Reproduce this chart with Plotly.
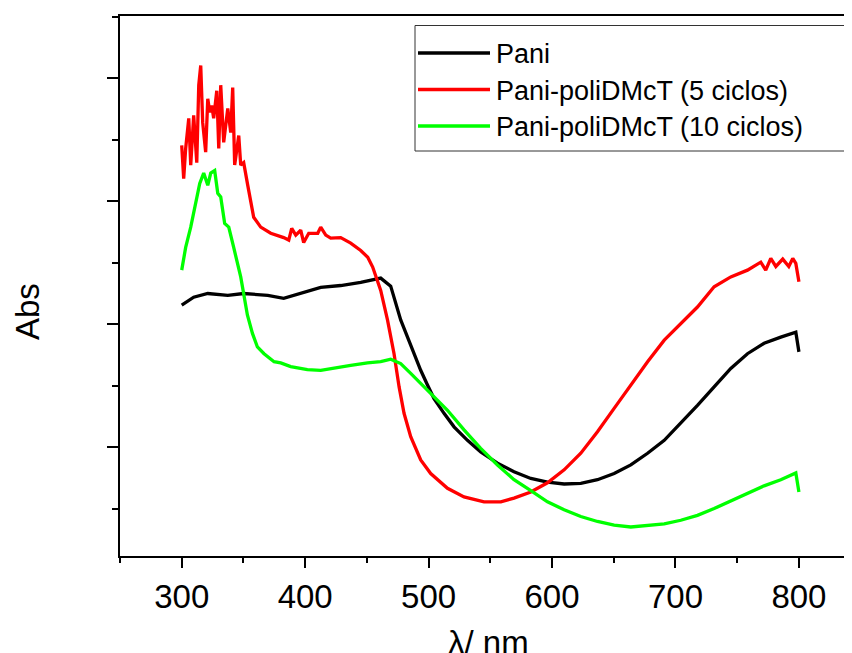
import plotly.graph_objects as go

# ---- data (wavelength nm, absorbance arb. units) ----
pani_x = [300.0, 309.7, 321.1, 337.3, 350.2, 369.7, 382.6, 396.4, 412.6, 428.8, 445.0, 461.2,
          469.3, 477.4, 482.9, 488.2, 493.6, 499.1, 504.4, 512.5, 520.6, 531.5, 542.2, 555.8,
          569.2, 582.8, 596.3, 609.8, 623.3, 636.8, 650.3, 663.8, 677.4, 690.9, 704.3, 717.8,
          731.3, 744.8, 758.3, 771.8, 785.3, 797.5, 800.0]
pani_y = [0.631, 0.644, 0.650, 0.647, 0.650, 0.647, 0.642, 0.650, 0.660, 0.663, 0.668, 0.675,
          0.662, 0.607, 0.579, 0.552, 0.525, 0.501, 0.479, 0.455, 0.433, 0.411, 0.392, 0.374,
          0.360, 0.349, 0.343, 0.340, 0.341, 0.347, 0.357, 0.371, 0.390, 0.411, 0.439, 0.468,
          0.498, 0.528, 0.552, 0.569, 0.579, 0.587, 0.555]

p5_x = [300.0, 301.6, 303.2, 305.7, 307.3, 309.7, 312.2, 313.8, 315.4, 317.0, 319.4, 321.1,
        322.7, 324.3, 325.9, 328.4, 330.0, 331.6, 334.0, 337.3, 339.7, 341.3, 342.9, 346.2,
        347.8, 350.2, 353.5, 358.3, 364.0, 372.1, 382.6, 386.7, 389.1, 392.4, 396.4, 398.8,
        402.9, 410.2, 412.6, 416.7, 420.7, 428.8, 436.9, 445.0, 450.7, 454.7, 461.2, 466.7,
        472.0, 476.1, 480.1, 485.5, 493.6, 501.7, 515.3, 528.7, 544.9, 558.5, 569.2, 582.8,
        596.3, 609.8, 623.3, 636.8, 650.3, 663.8, 677.4, 690.9, 707.1, 717.8, 731.3, 744.8,
        758.3, 769.1, 773.1, 777.2, 781.3, 786.9, 791.8, 795.0, 797.5, 800.0]
p5_y = [0.891, 0.837, 0.886, 0.935, 0.859, 0.940, 0.863, 0.989, 1.021, 0.928, 0.880, 0.967,
        0.945, 0.956, 0.935, 0.980, 0.886, 0.989, 0.896, 0.951, 0.912, 0.985, 0.859, 0.907,
        0.859, 0.863, 0.826, 0.774, 0.758, 0.748, 0.741, 0.737, 0.756, 0.745, 0.753, 0.733,
        0.748, 0.748, 0.758, 0.745, 0.740, 0.741, 0.732, 0.720, 0.709, 0.693, 0.655, 0.607,
        0.552, 0.498, 0.455, 0.417, 0.379, 0.357, 0.333, 0.319, 0.311, 0.311, 0.317, 0.327,
        0.342, 0.363, 0.390, 0.425, 0.463, 0.501, 0.539, 0.574, 0.607, 0.628, 0.661, 0.677,
        0.688, 0.701, 0.688, 0.707, 0.694, 0.706, 0.694, 0.707, 0.699, 0.669]

p10_x = [300.0, 303.2, 307.3, 311.3, 314.6, 317.8, 321.1, 323.5, 326.7, 329.2, 331.6, 334.8,
         338.1, 342.1, 346.2, 347.8, 353.2, 357.3, 361.3, 366.7, 374.8, 380.2, 388.3, 401.8,
         412.6, 423.4, 436.9, 450.5, 461.2, 469.3, 477.4, 485.5, 493.6, 501.7, 515.3, 528.7,
         542.2, 555.8, 569.2, 582.8, 596.3, 609.8, 623.3, 636.8, 650.3, 663.8, 677.4, 690.9,
         704.3, 717.8, 731.3, 744.8, 758.3, 771.8, 785.3, 797.5, 800.0]
p10_y = [0.688, 0.725, 0.758, 0.797, 0.829, 0.846, 0.826, 0.846, 0.850, 0.813, 0.807, 0.764,
         0.758, 0.725, 0.688, 0.677, 0.615, 0.585, 0.563, 0.552, 0.539, 0.537, 0.531, 0.526,
         0.525, 0.528, 0.533, 0.537, 0.539, 0.543, 0.536, 0.520, 0.504, 0.487, 0.460, 0.428,
         0.398, 0.371, 0.347, 0.329, 0.311, 0.298, 0.287, 0.279, 0.273, 0.270, 0.272, 0.275,
         0.281, 0.289, 0.300, 0.312, 0.325, 0.337, 0.347, 0.358, 0.327]

series_names = ["Pani", "Pani-poliDMcT (5 ciclos)", "Pani-poliDMcT (10 ciclos)"]
series_colors = ["#000000", "#ff0000", "#00ff00"]

x_range = [250, 843]
y_range = [0.2228, 1.1016]

FONT = "Liberation Sans, Arial, sans-serif"

fig = go.Figure()
for xs, ys, name, col in zip([pani_x, p5_x, p10_x], [pani_y, p5_y, p10_y], series_names, series_colors):
    fig.add_trace(go.Scatter(x=xs, y=ys, mode="lines", name=name,
                             line=dict(color=col, width=3.3), showlegend=False))

# helpers: screen pixel -> paper coordinate (plot area spans x 120..852, y 16..556 on screen)
L, R, T, B = 120, 852, 16, 556
def px(xp):
    return (xp - L) / (R - L)
def py(yp):
    return (B - yp) / (B - T)

# manual legend (box + line samples + real text)
shapes = [dict(type="rect", xref="paper", yref="paper", x0=px(415), x1=px(849.5), y0=py(151), y1=py(25.5),
               line=dict(color="#333333", width=1), fillcolor="white", layer="below")]
annotations = []
for i, (name, col) in enumerate(zip(series_names, series_colors)):
    yy = [53, 89.5, 126][i]
    shapes.append(dict(type="line", xref="paper", yref="paper", x0=px(418), x1=px(490),
                       y0=py(yy), y1=py(yy), line=dict(color=col, width=3.3)))
    annotations.append(dict(xref="paper", yref="paper", x=px(494), y=py(yy + 1), text=name,
                            showarrow=False, xanchor="left", yanchor="middle",
                            font=dict(family=FONT, size=27, color="black")))

annotations.append(dict(xref="paper", yref="paper", x=px(489), y=py(622), text="λ/ nm",
                        showarrow=False, xanchor="center", yanchor="top",
                        font=dict(family=FONT, size=33, color="black")))
annotations.append(dict(xref="paper", yref="paper", x=px(27), y=py(312), text="Abs", textangle=-90,
                        showarrow=False, xanchor="center", yanchor="middle",
                        font=dict(family=FONT, size=33, color="black")))

# the page body adds an 8 px offset, so the figure is 8 px smaller and margins shifted
fig.update_layout(
    width=844, height=645,
    margin=dict(l=112, r=0, t=8, b=97, autoexpand=False),
    paper_bgcolor="white", plot_bgcolor="white",
    shapes=shapes, annotations=annotations,
    showlegend=False,
    font=dict(family=FONT, color="black"),
)
fig.update_xaxes(range=x_range, showgrid=False, zeroline=False,
                 showline=True, linecolor="black", linewidth=2, mirror=True,
                 ticks="outside", tickwidth=2, ticklen=10, tickcolor="black",
                 tick0=300, dtick=100,
                 minor=dict(ticks="outside", dtick=50, tick0=250, ticklen=5, tickwidth=2, tickcolor="black"),
                 tickfont=dict(size=33, family=FONT, color="black"))
fig.update_yaxes(range=y_range, showgrid=False, zeroline=False,
                 showline=True, linecolor="black", linewidth=2, mirror=False,
                 ticks="outside", tickwidth=2, ticklen=11, tickcolor="black",
                 tick0=0.4, dtick=0.2, showticklabels=False,
                 minor=dict(ticks="outside", dtick=0.1, tick0=0.3, ticklen=6, tickwidth=2, tickcolor="black"))

fig.write_html("out.html")
